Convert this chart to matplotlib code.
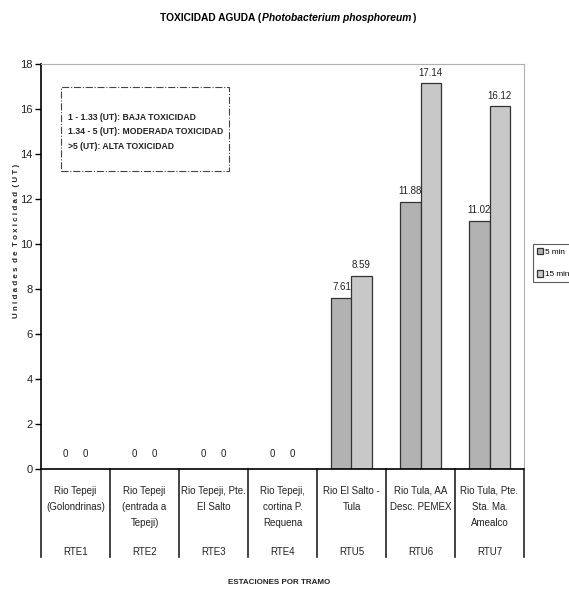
import numpy as np
import matplotlib
matplotlib.use("Agg")
import matplotlib.pyplot as plt
from matplotlib import font_manager
from matplotlib.transforms import blended_transform_factory

# data
codes = ["RTE1", "RTE2", "RTE3", "RTE4", "RTU5", "RTU6", "RTU7"]
stations = ["Rio Tepeji\n(Golondrinas)", "Rio Tepeji\n(entrada a\nTepeji)",
            "Rio Tepeji, Pte.\nEl Salto", "Rio Tepeji,\ncortina P.\nRequena",
            "Rio El Salto -\nTula", "Rio Tula, AA\nDesc. PEMEX",
            "Rio Tula, Pte.\nSta. Ma.\nAmealco"]
ut_5min = [0, 0, 0, 0, 7.61, 11.88, 11.02]
ut_15min = [0, 0, 0, 0, 8.59, 17.14, 16.12]
yticks = list(range(0, 19, 2))
ranges_text = ["1 - 1.33 (UT): BAJA TOXICIDAD",
               "1.34 - 5 (UT): MODERADA TOXICIDAD",
               ">5 (UT): ALTA TOXICIDAD"]

# narrow font if there is one, else shrink the regular one
names = {f.name for f in font_manager.fontManager.ttflist}
if "Liberation Sans Narrow" in names:
    fam, k = "Liberation Sans Narrow", 1.22
else:
    fam, k = "Liberation Sans", 1.0
plt.rcParams["font.family"] = [fam, "DejaVu Sans"]

fig = plt.figure(figsize=(5.69, 5.90), dpi=100)
ax = fig.add_axes([41 / 569, 1 - 469 / 590, 483 / 569, 405 / 590])

x = np.arange(len(codes))
w = 0.29
b1 = ax.bar(x - w / 2, ut_5min, w, color="#b2b2b2", edgecolor="#333333",
            linewidth=0.9, label="5 min")
b2 = ax.bar(x + w / 2, ut_15min, w, color="#c8c8c8", edgecolor="#333333",
            linewidth=0.9, label="15 min")

for bars, vals in ((b1, ut_5min), (b2, ut_15min)):
    for r, v in zip(bars, vals):
        lab = "0" if v == 0 else f"{v:.2f}"
        ax.annotate(lab, (r.get_x() + r.get_width() / 2, v),
                    xytext=(0, 4 if v else 7), textcoords="offset points",
                    ha="center", va="bottom", fontsize=7 * k, color="#222222")

ax.set_xlim(-0.5, len(codes) - 0.5)
ax.set_ylim(0, 18)
ax.set_yticks(yticks)
ax.tick_params(axis="y", labelsize=8 * k, length=4, width=1, pad=2,
               labelcolor="#222222")
ax.set_xticks([])
ax.spines["left"].set_linewidth(1.2)
ax.spines["bottom"].set_linewidth(1.2)
ax.spines["top"].set_color("#b0b0b0")
ax.spines["right"].set_color("#b0b0b0")

# category table under the axis
tr = blended_transform_factory(ax.transData, ax.transAxes)
for i in range(len(codes) + 1):
    ax.plot([i - 0.5, i - 0.5], [0, -0.217], transform=tr, color="#222222",
            lw=1.2, clip_on=False)
for i, (s, c) in enumerate(zip(stations, codes)):
    ax.text(i, -0.041, s, transform=tr, ha="center", va="top",
            fontsize=7 * k, linespacing=1.75, color="#222222")
    ax.text(i, -0.205, c, transform=tr, ha="center", va="center",
            fontsize=7 * k, color="#222222")

fig.text(17 / 569, 1 - 241 / 590,
         "U n i d a d e s  d e  T o x i c i d a d  ( U T )",
         rotation=90, ha="center", va="center", fontsize=5.7 * k,
         fontweight="bold", color="#222222")
fig.text(279 / 569, 1 - 583 / 590, "ESTACIONES POR TRAMO", ha="center",
         va="center", fontsize=5.8 * k, fontweight="bold", color="#222222")

# title in three pieces
ty = 1 - 18 / 590
t1 = fig.text(160 / 569, ty, "TOXICIDAD AGUDA (", ha="left",
              va="center", fontsize=7.4 * k, fontweight="bold")
t2 = fig.text(0, ty, "Photobacterium phosphoreum", fontsize=7.4 * k,
              fontweight="bold", fontstyle="italic", va="center")
t3 = fig.text(0, ty, ")", fontsize=7.4 * k, fontweight="bold", va="center")
fig.canvas.draw()
r = fig.canvas.get_renderer()
bb1 = t1.get_window_extent(r)
t2.set_x(bb1.x1 / fig.bbox.width + 0.002)
fig.canvas.draw()
bb2 = t2.get_window_extent(r)
t3.set_x(bb2.x1 / fig.bbox.width + 0.002)

# ranges box
ax.text(27 / 483, 1 - 68 / 405, "\n".join(ranges_text), transform=ax.transAxes,
        ha="left", va="center", fontsize=6.2 * k, fontweight="bold",
        linespacing=1.85, color="#222222")
ax.add_patch(plt.Rectangle((20 / 483, 1 - 107 / 405), 168 / 483, 84 / 405,
                           transform=ax.transAxes, fill=False,
                           linestyle="-.", linewidth=0.8, edgecolor="#444444"))

leg = fig.legend(loc="upper left", bbox_to_anchor=(533 / 569, 1 - 244 / 590),
                 fontsize=5.9 * k, frameon=True, fancybox=False,
                 handlelength=0.8, handleheight=0.9, handletextpad=0.2,
                 borderpad=0.45, labelspacing=1.7, borderaxespad=0)
leg.get_frame().set_edgecolor("#333333")
leg.get_frame().set_linewidth(0.8)

fig.savefig("out.png", dpi=100)
